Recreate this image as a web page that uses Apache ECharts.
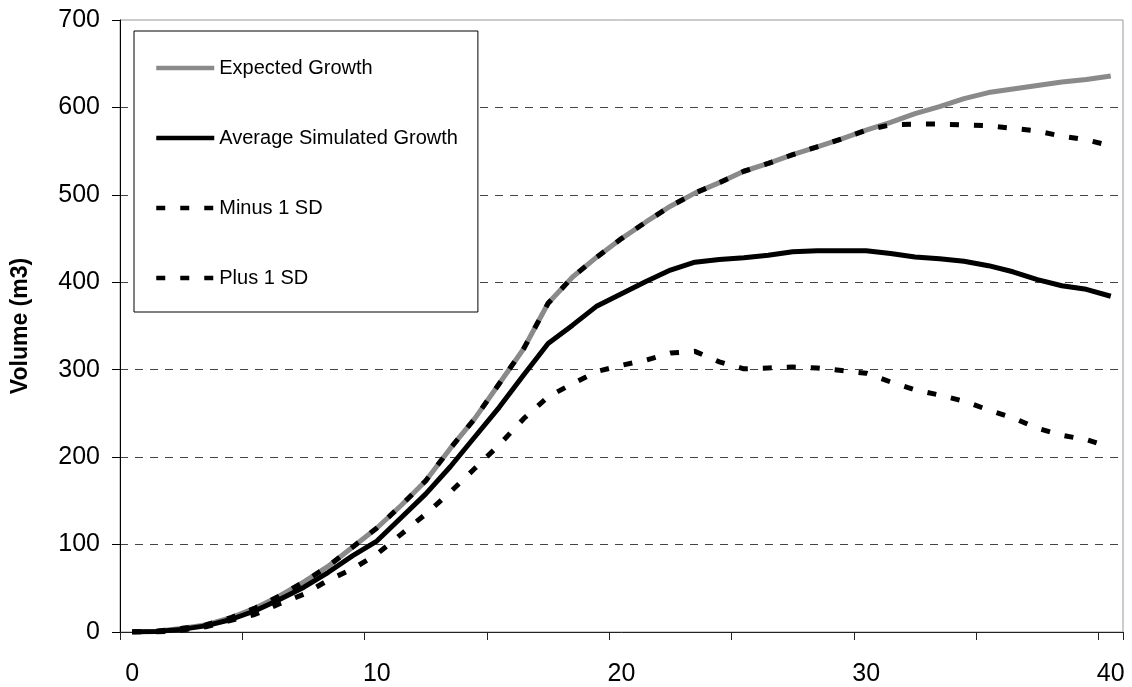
<!DOCTYPE html>
<html><head><meta charset="utf-8">
<script src="https://cdn.jsdelivr.net/npm/echarts@6/dist/echarts.min.js"></script>
<style>html,body{margin:0;padding:0;background:#fff}#c{width:1132px;height:687px}</style>
</head><body><div id="c"></div>
<script>
const categories = ['0','1','2','3','4','5','6','7','8','9','10','11','12','13','14','15','16','17','18','19','20','21','22','23','24','25','26','27','28','29','30','31','32','33','34','35','36','37','38','39','40'];
const expectedGrowth = [0,1,4,8,16,27,41,57,75,97,119,145,173,210,244,284,324,376,406,429,450,469,487,502,514,527,536,546,555,564,574,583,593,601,610,617,621,625,629,632,636];
const averageSimulated = [0,0.5,3,7,14,24,37,51,68,87,104,131,158,189,223,257,294,330,351,373,387,401,414,423,426,428,431,435,436,436,436,433,429,427,424,419,412,403,396,392,384];
const minus1SD = [0,0,2,6,13,20,32,43,59,72,89,112,135,160,187,214,244,269,284,298,305,311,319,321,309,301,302,303,302,299,296,286,277,271,264,254,245,233,225,220,211];
const plus1SD = [0,1,4,8,16,27,41,57,75,97,119,145,173,210,244,284,324,376,406,429,450,469,487,502,514,527,536,546,555,564,574,580,581,581,580,579,576,573,567,563,556];
const yTicks = {min:0, max:700, step:100};

const FONT = 'Liberation Sans, Arial, sans-serif';
const chart = echarts.init(document.getElementById('c'), null, {renderer:'canvas'});
const dash = [9, 15];
chart.setOption({
  backgroundColor:'#fff',
  animation:false,
  grid:{left:120, right:9, top:20, bottom:55, show:true, borderColor:'#999', borderWidth:1, backgroundColor:'transparent', containLabel:false, outerBoundsMode:'none'},
  legend:{
    orient:'vertical', left:134, top:31, itemWidth:58, itemHeight:14, itemGap:50,
    padding:[27,20,24,20], borderColor:'#000', borderWidth:1, backgroundColor:'#fff',
    itemStyle:{opacity:0},
    lineStyle:{width:4.5},
    textStyle:{fontSize:20, fontFamily:FONT, color:'#000'},
    data:['Expected Growth','Average Simulated Growth','Minus 1 SD','Plus 1 SD']
  },
  xAxis:{
    type:'category', data:categories, boundaryGap:true,
    axisLine:{show:true, lineStyle:{color:'#222', width:1}},
    axisTick:{show:true, interval:4, length:8, lineStyle:{color:'#222'}},
    axisLabel:{interval:9, fontSize:25, fontFamily:FONT, color:'#000', margin:30},
    splitLine:{show:false}
  },
  yAxis:{
    type:'value', min:yTicks.min, max:yTicks.max, interval:yTicks.step,
    name:'Volume (m3)', nameLocation:'middle', nameGap:88, nameRotate:90,
    nameTextStyle:{fontSize:23, fontWeight:'bold', fontFamily:FONT, color:'#000'},
    axisLine:{show:true, lineStyle:{color:'#000', width:1}},
    axisTick:{show:true, length:8, lineStyle:{color:'#000'}},
    axisLabel:{fontSize:25, fontFamily:FONT, color:'#000', margin:20},
    splitLine:{show:true, showMinLine:false, showMaxLine:false, lineStyle:{type:[8,7], color:'#444', width:1}}
  },
  series:[
    {name:'Expected Growth', type:'line', data:expectedGrowth, symbol:'none', lineStyle:{color:'#8a8a8a', width:5}, itemStyle:{color:'#8a8a8a'}},
    {name:'Average Simulated Growth', type:'line', data:averageSimulated, symbol:'none', lineStyle:{color:'#000', width:5}, itemStyle:{color:'#000'}},
    {name:'Minus 1 SD', type:'line', data:minus1SD, symbol:'none', lineStyle:{color:'#000', width:5, type:dash, cap:'butt'}, itemStyle:{color:'#000'}},
    {name:'Plus 1 SD', type:'line', data:plus1SD, symbol:'none', lineStyle:{color:'#000', width:5, type:dash, cap:'butt'}, itemStyle:{color:'#000'}}
  ]
});
</script></body></html>
